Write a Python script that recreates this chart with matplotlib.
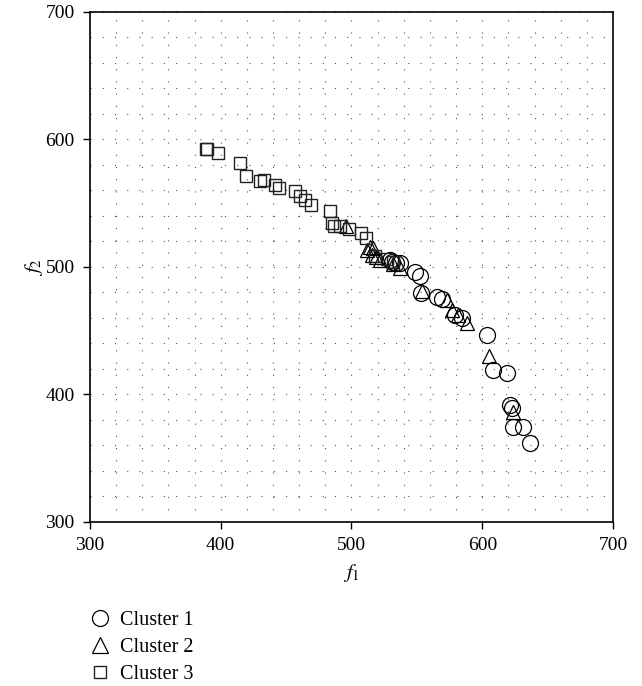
import matplotlib
matplotlib.use("Agg")
import matplotlib.pyplot as plt
from matplotlib.ticker import MultipleLocator
from matplotlib.lines import Line2D

plt.rcParams['font.family'] = ['Liberation Serif', 'DejaVu Serif']
plt.rcParams['mathtext.fontset'] = 'stix'

# Cluster 1 (circles)
c1_x = [529.4, 530.6, 534.4, 537.0, 548.5, 552.3, 553.1, 565.1, 568.9, 579.1,
        584.2, 603.3, 608.4, 618.6, 621.1, 622.4, 623.6, 631.3, 636.4]
c1_y = [505.3, 503.9, 502.7, 502.7, 496.1, 492.7, 479.1, 476.5, 474.4, 462.1,
        459.5, 446.4, 419.0, 416.9, 391.5, 388.9, 374.5, 374.5, 361.9]
# Cluster 2 (triangles)
c2_x = [495.7, 511.5, 514.1, 516.6, 515.3, 519.1, 521.7, 532.0, 537.0, 553.6,
        572.7, 576.5, 581.6, 588.0, 605.3, 623.6]
c2_y = [531.9, 513.0, 515.7, 514.4, 509.2, 507.8, 505.3, 502.0, 498.7, 481.0,
        473.9, 466.0, 462.1, 455.6, 430.0, 386.3]
# Cluster 3 (squares)
c3_x = [388.9, 389.5, 398.1, 414.9, 419.0, 430.0, 433.0, 441.7, 444.7, 456.7,
        460.8, 464.6, 468.7, 483.7, 484.8, 486.5, 491.1, 498.0, 507.0, 510.8,
        518.0, 527.0, 532.0]
c3_y = [592.1, 592.1, 588.9, 581.1, 571.1, 567.2, 568.0, 563.8, 562.0, 559.4,
        555.5, 552.3, 548.2, 543.5, 534.5, 531.9, 531.9, 529.3, 526.2, 522.3,
        508.0, 506.0, 504.0]

labels = ['Cluster 1', 'Cluster 2', 'Cluster 3']
ticks = [300, 400, 500, 600, 700]

fig = plt.figure(figsize=(6.42, 6.86), dpi=100)
ax = fig.add_axes([0.140, 0.2395, 0.815, 0.7435])

ax.plot(c1_x, c1_y, linestyle='none', marker='o', markersize=11.5,
        markerfacecolor='none', markeredgecolor='black', markeredgewidth=0.9)
ax.plot(c2_x, c2_y, linestyle='none', marker='^', markersize=10,
        markerfacecolor='none', markeredgecolor='black', markeredgewidth=0.9)
ax.plot(c3_x, c3_y, linestyle='none', marker='s', markersize=8.6,
        markerfacecolor='none', markeredgecolor='#222222', markeredgewidth=1.0)

ax.set_xlim(300, 700)
ax.set_ylim(300, 700)
ax.set_xticks(ticks)
ax.set_yticks(ticks)
ax.xaxis.set_minor_locator(MultipleLocator(20))
ax.yaxis.set_minor_locator(MultipleLocator(20))
ax.tick_params(which='minor', length=0)
ax.tick_params(which='major', direction='out', length=5, width=1,
               top=False, right=False, labelsize=14, pad=6)
ax.grid(which='both', color='#555555', linestyle=(0, (1, 10)), linewidth=0.8)
ax.set_axisbelow(True)
for s in ax.spines.values():
    s.set_linewidth(1.2)

ax.set_xlabel('$f_1$', fontsize=15, labelpad=6)
ax.set_ylabel('$f_2$', fontsize=15, labelpad=0)

handles = [
    Line2D([], [], linestyle='none', marker='o', markersize=11.5,
           markerfacecolor='none', markeredgecolor='black', markeredgewidth=0.9),
    Line2D([], [], linestyle='none', marker='^', markersize=12,
           markerfacecolor='none', markeredgecolor='black', markeredgewidth=0.9),
    Line2D([], [], linestyle='none', marker='s', markersize=8.6,
           markerfacecolor='none', markeredgecolor='#222222', markeredgewidth=1.0),
]
fig.legend(handles, labels, loc='upper left', bbox_to_anchor=(0.140, 0.109),
           frameon=False, fontsize=14.5, handlelength=1.0, handletextpad=0.5,
           labelspacing=0.38, borderpad=0, borderaxespad=0)

fig.savefig('out.png', dpi=100)
